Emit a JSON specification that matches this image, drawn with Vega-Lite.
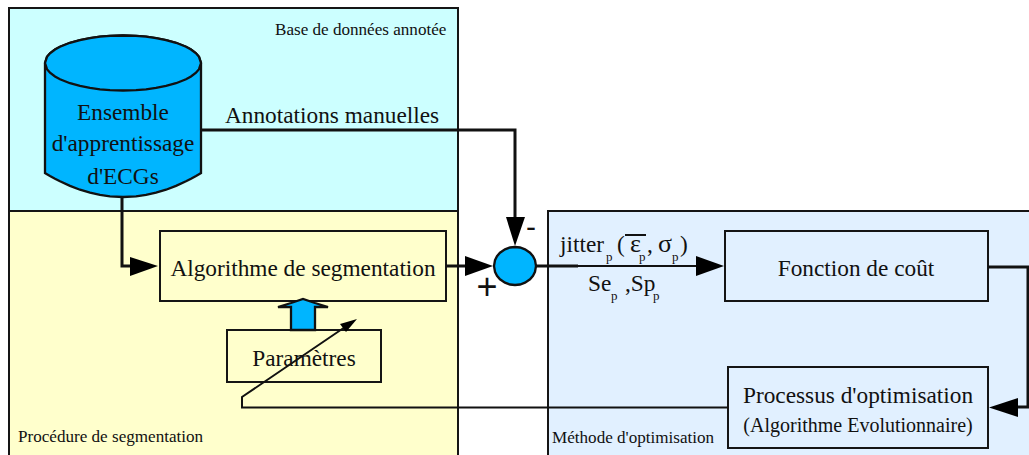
{
"$schema":"https://vega.github.io/schema/vega-lite/v6.json",
"width":1029,"height":455,"padding":0,"autosize":{"type":"none"},
"background":"white","view":{"stroke":null},
"encoding":{
 "x":{"field":"x","type":"quantitative","axis":null,"scale":{"domain":[0,1029],"nice":false,"zero":false}},
 "y":{"field":"y","type":"quantitative","axis":null,"scale":{"domain":[455,0],"nice":false,"zero":false}}
},
"layer":[
{"data":{"values":[
 {"name":"Base de données annotée","x":9,"x2":458,"y":8,"y2":211},
 {"name":"Procédure de segmentation","x":9,"x2":458,"y":211,"y2":465},
 {"name":"Méthode d'optimisation","x":548,"x2":1040,"y":211,"y2":465},
 {"name":"Algorithme de segmentation","x":160,"x2":446,"y":231,"y2":301},
 {"name":"Paramètres","x":227,"x2":381,"y":330,"y2":382},
 {"name":"Fonction de coût","x":725,"x2":988,"y":231,"y2":301},
 {"name":"Processus d'optimisation","x":728,"x2":988,"y":367,"y2":448}
 ]},
 "mark":{"type":"rect","stroke":"#151515","strokeWidth":2,"clip":true},
 "encoding":{"x2":{"field":"x2"},"y2":{"field":"y2"},
  "color":{"field":"name","type":"nominal","legend":null,"scale":{
   "domain":["Base de données annotée","Procédure de segmentation","Méthode d'optimisation","Algorithme de segmentation","Paramètres","Fonction de coût","Processus d'optimisation"],
   "range":["#CCFFFF","#FFFFCC","#E1F0FF","#FFFFCC","#FFFFCC","#E1F0FF","#E1F0FF"]}}}
},
{"data":{"values":[
 {"s":"body","x":45,"y":63,"y2":173},{"s":"body","x":47,"y":56.8,"y2":174.2},{"s":"body","x":50,"y":53.3,"y2":176},{"s":"body","x":55,"y":49.5,"y2":178.8},{"s":"body","x":60,"y":46.8,"y2":181.3},{"s":"body","x":70,"y":42.8,"y2":185.9},{"s":"body","x":80,"y":40.1,"y2":189.7},{"s":"body","x":90,"y":38.1,"y2":192.7},{"s":"body","x":100,"y":36.7,"y2":194.9},{"s":"body","x":110,"y":35.9,"y2":196.3},{"s":"body","x":123,"y":35.5,"y2":197},{"s":"body","x":136,"y":35.9,"y2":196.3},{"s":"body","x":146,"y":36.7,"y2":194.9},{"s":"body","x":156,"y":38.1,"y2":192.7},{"s":"body","x":166,"y":40.1,"y2":189.7},{"s":"body","x":176,"y":42.8,"y2":185.9},{"s":"body","x":186,"y":46.8,"y2":181.3},{"s":"body","x":191,"y":49.5,"y2":178.8},{"s":"body","x":196,"y":53.3,"y2":176},{"s":"body","x":199,"y":56.8,"y2":174.2},{"s":"body","x":201,"y":63,"y2":173},
 {"s":"top","x":45,"y":63,"y2":63},{"s":"top","x":47,"y":56.8,"y2":69.2},{"s":"top","x":50,"y":53.3,"y2":72.7},{"s":"top","x":55,"y":49.5,"y2":76.5},{"s":"top","x":60,"y":46.8,"y2":79.2},{"s":"top","x":70,"y":42.8,"y2":83.2},{"s":"top","x":80,"y":40.1,"y2":85.9},{"s":"top","x":90,"y":38.1,"y2":87.9},{"s":"top","x":100,"y":36.7,"y2":89.3},{"s":"top","x":110,"y":35.9,"y2":90.1},{"s":"top","x":123,"y":35.5,"y2":90.5},{"s":"top","x":136,"y":35.9,"y2":90.1},{"s":"top","x":146,"y":36.7,"y2":89.3},{"s":"top","x":156,"y":38.1,"y2":87.9},{"s":"top","x":166,"y":40.1,"y2":85.9},{"s":"top","x":176,"y":42.8,"y2":83.2},{"s":"top","x":186,"y":46.8,"y2":79.2},{"s":"top","x":191,"y":49.5,"y2":76.5},{"s":"top","x":196,"y":53.3,"y2":72.7},{"s":"top","x":199,"y":56.8,"y2":69.2},{"s":"top","x":201,"y":63,"y2":63},
 {"s":"sum","x":494,"y":266,"y2":266},{"s":"sum","x":495,"y":260.2,"y2":271.8},{"s":"sum","x":497,"y":256.2,"y2":275.8},{"s":"sum","x":500,"y":252.7,"y2":279.3},{"s":"sum","x":505,"y":249.3,"y2":282.7},{"s":"sum","x":510,"y":247.5,"y2":284.5},{"s":"sum","x":515,"y":247,"y2":285},{"s":"sum","x":520,"y":247.5,"y2":284.5},{"s":"sum","x":525,"y":249.3,"y2":282.7},{"s":"sum","x":530,"y":252.7,"y2":279.3},{"s":"sum","x":533,"y":256.2,"y2":275.8},{"s":"sum","x":535,"y":260.2,"y2":271.8},{"s":"sum","x":536,"y":266,"y2":266},
 {"s":"up","x":278,"y":307,"y2":307},{"s":"up","x":291,"y":303,"y2":307},{"s":"up","x":291,"y":303,"y2":330},{"s":"up","x":303,"y":299,"y2":330},{"s":"up","x":315,"y":303,"y2":330},{"s":"up","x":315,"y":303,"y2":307},{"s":"up","x":328,"y":307,"y2":307}
 ]},
 "mark":{"type":"area","fill":"#00B5FF","stroke":"#111111","strokeWidth":2.3,"opacity":1},
 "encoding":{"y2":{"field":"y2"},"detail":{"field":"s"}}
},
{"data":{"values":[
 {"t":"Ensemble","x":123,"y":120},{"t":"d'apprentissage","x":123,"y":151},{"t":"d'ECGs","x":123,"y":184},
 {"t":"Algorithme de segmentation","x":303,"y":276},{"t":"Paramètres","x":304,"y":366},
 {"t":"Fonction de coût","x":856,"y":276},{"t":"Processus d'optimisation","x":858,"y":403}]},
 "mark":{"type":"text","font":"Liberation Serif","fontSize":23.3,"align":"center","baseline":"alphabetic","color":"#111111"},
 "encoding":{"text":{"field":"t"}}
},
{"data":{"values":[
 {"t":"Annotations manuelles","x":225,"y":123},{"t":"jitter","x":560,"y":252},{"t":"(","x":617,"y":252},{"t":",","x":647,"y":252},{"t":")","x":680,"y":252},{"t":"Se","x":588,"y":291},{"t":",Sp","x":625,"y":291}]},
 "mark":{"type":"text","font":"Liberation Serif","fontSize":23.3,"align":"left","baseline":"alphabetic","color":"#111111"},
 "encoding":{"text":{"field":"t"}}
},
{"data":{"values":[{"t":"ε","x":630,"y":252},{"t":"σ","x":658,"y":252}]},
 "mark":{"type":"text","font":"Liberation Serif","fontSize":26,"align":"left","baseline":"alphabetic","color":"#111111"},
 "encoding":{"text":{"field":"t"}}
},
{"data":{"values":[
 {"t":"Base de données annotée","x":275,"y":35},{"t":"Procédure de segmentation","x":18,"y":442},{"t":"Méthode d'optimisation","x":552,"y":443}]},
 "mark":{"type":"text","font":"Liberation Serif","fontSize":17.1,"align":"left","baseline":"alphabetic","color":"#111111"},
 "encoding":{"text":{"field":"t"}}
},
{"data":{"values":[
 {"t":"p","x":606,"y":261},{"t":"p","x":639,"y":261},{"t":"p","x":672,"y":261},{"t":"p","x":611,"y":300},{"t":"p","x":653,"y":300}]},
 "mark":{"type":"text","font":"Liberation Serif","fontSize":13,"align":"left","baseline":"alphabetic","color":"#111111"},
 "encoding":{"text":{"field":"t"}}
},
{"data":{"values":[{"t":"(Algorithme Evolutionnaire)","x":858,"y":432}]},
 "mark":{"type":"text","font":"Liberation Serif","fontSize":20,"align":"center","baseline":"alphabetic","color":"#111111"},
 "encoding":{"text":{"field":"t"}}
},
{"data":{"values":[{"t":"-","x":531,"y":237}]},
 "mark":{"type":"text","font":"Liberation Sans","fontSize":30,"align":"center","baseline":"alphabetic","color":"#111111"},
 "encoding":{"text":{"field":"t"}}
},
{"data":{"values":[{"t":"+","x":487,"y":299}]},
 "mark":{"type":"text","font":"Liberation Sans","fontSize":36,"align":"center","baseline":"alphabetic","color":"#111111"},
 "encoding":{"text":{"field":"t"}}
},
{"data":{"values":[
 {"s":"a","i":0,"x":201,"y":130},{"s":"a","i":1,"x":515,"y":130},{"s":"a","i":2,"x":515,"y":225},
 {"s":"b","i":0,"x":122,"y":197},{"s":"b","i":1,"x":122,"y":266},{"s":"b","i":2,"x":135,"y":266},
 {"s":"c","i":0,"x":446,"y":266},{"s":"c","i":1,"x":470,"y":266},
 {"s":"d","i":0,"x":536,"y":266},{"s":"d","i":1,"x":578,"y":266},
 {"s":"e","i":0,"x":988,"y":267},{"s":"e","i":1,"x":1028,"y":267},{"s":"e","i":2,"x":1028,"y":407},{"s":"e","i":3,"x":1010,"y":407}
 ]},
 "mark":{"type":"line","color":"#111111","strokeWidth":3,"strokeJoin":"miter"},
 "encoding":{"detail":{"field":"s"},"order":{"field":"i"}}
},
{"data":{"values":[
 {"s":"f","i":0,"x":578,"y":266},{"s":"f","i":1,"x":700,"y":266},
 {"s":"g","i":0,"x":728,"y":407.5},{"s":"g","i":1,"x":242,"y":407.5},{"s":"g","i":2,"x":242,"y":397},{"s":"g","i":3,"x":348,"y":325},
 {"s":"h","i":0,"x":625,"y":235},{"s":"h","i":1,"x":646,"y":235}
 ]},
 "mark":{"type":"line","color":"#111111","strokeWidth":2,"strokeJoin":"miter"},
 "encoding":{"detail":{"field":"s"},"order":{"field":"i"}}
},
{"data":{"values":[
 {"s":"in","x":130,"y":257,"y2":276},{"s":"in","x":158,"y":266,"y2":266},
 {"s":"sum+","x":465,"y":256,"y2":276},{"s":"sum+","x":493,"y":266,"y2":266},
 {"s":"sum-","x":506,"y":217,"y2":217},{"s":"sum-","x":515,"y":217,"y2":246},{"s":"sum-","x":525,"y":217,"y2":217},
 {"s":"cost","x":696,"y":256,"y2":276},{"s":"cost","x":724,"y":266,"y2":266},
 {"s":"opt","x":989,"y":407.5,"y2":407.5},{"s":"opt","x":1018,"y":398,"y2":417},
 {"s":"tune","x":340,"y":324,"y2":324},{"s":"tune","x":346,"y":322.2,"y2":332},{"s":"tune","x":357,"y":319,"y2":319}
 ]},
 "mark":{"type":"area","fill":"#000000","stroke":null,"opacity":1},
 "encoding":{"y2":{"field":"y2"},"detail":{"field":"s"}}
}
]}
